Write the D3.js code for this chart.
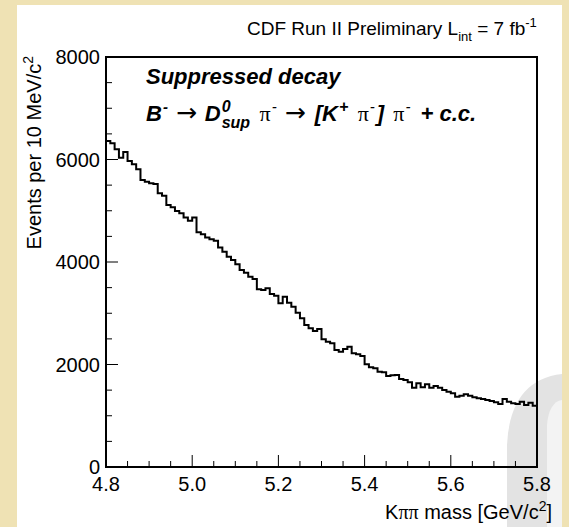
<!DOCTYPE html>
<html>
<head>
<meta charset="utf-8">
<script src="https://cdn.jsdelivr.net/npm/d3@7"></script>
<style>
  body { margin: 0; background: #efe2b4; }
  svg { display: block; }
  text { font-family: "Liberation Sans", Arial, Helvetica, sans-serif; fill: #000; }
  .sym { font-family: "Liberation Serif", "DejaVu Serif", serif; font-style: normal; font-weight: normal; }
  .arr { font-family: "DejaVu Sans", sans-serif; font-style: normal; font-weight: normal; }
</style>
</head>
<body>
<svg id="canvas" width="569" height="527"></svg>
<script>
// histogram: 100 bins of 10 MeV between 4.8 and 5.8 GeV/c^2
const binLow = 4.8;
const binWidth = 0.01;
const counts = [
  6360, 6315, 6200, 6035, 6145, 5970, 5905, 5808, 5600, 5566,
  5535, 5520, 5340, 5293, 5110, 5066, 4995, 4950, 4870, 4805,
  4870, 4580, 4540, 4480, 4442, 4415, 4285, 4200, 4103, 4040,
  3955, 3843, 3790, 3712, 3668, 3467, 3453, 3486, 3375, 3342,
  3193, 3322, 3205, 3127, 3010, 2901, 2770, 2706, 2653, 2692,
  2491, 2445, 2413, 2283, 2250, 2302, 2347, 2218, 2199, 2166,
  2004, 1945, 1926, 1860, 1848, 1776, 1790, 1795, 1717, 1697,
  1652, 1547, 1633, 1555, 1613, 1547, 1580, 1547, 1502, 1469,
  1438, 1372, 1391, 1418, 1391, 1360, 1340, 1327, 1307, 1288,
  1262, 1229, 1327, 1274, 1243, 1229, 1274, 1210, 1254, 1196
];
const xTicks = [4.8, 5.0, 5.2, 5.4, 5.6, 5.8];
const yTicks = [0, 2000, 4000, 6000, 8000];

const svg = d3.select("#canvas");
const padL = 106, padR = 537, padT = 57, padB = 467;

const x = d3.scaleLinear().domain([4.8, 5.8]).range([padL, padR]);
const y = d3.scaleLinear().domain([0, 8000]).range([padB, padT]);

// white canvas pad
svg.append("rect").attr("x", 17).attr("y", 5).attr("width", 545).attr("height", 522).attr("fill", "#fff");

// grey logo piece in the lower right corner
svg.append("path")
    .attr("d", "M507,527 L507,445 Q510,380 562,374 L562,527 Z")
    .attr("fill", "#e3e3e3");
svg.append("path")
    .attr("d", "M547,527 L547,425 Q549,402 562,400 L562,527 Z")
    .attr("fill", "#f3f3f3");

// minor ticks
const xMinor = d3.range(0, 21).map(i => 4.8 + i * 0.05);
const yMinor = d3.range(0, 17).map(i => i * 500);

const ticks = svg.append("g").attr("stroke", "#000").attr("stroke-width", 1);
xMinor.forEach(v => {
    const major = xTicks.some(t => Math.abs(t - v) < 1e-6);
    ticks.append("line").attr("x1", x(v)).attr("x2", x(v))
        .attr("y1", padB).attr("y2", padB - (major ? 12 : 6));
});
yMinor.forEach(v => {
    const major = yTicks.includes(v);
    ticks.append("line").attr("y1", y(v)).attr("y2", y(v))
        .attr("x1", padL).attr("x2", padL + (major ? 12 : 6));
});

// histogram
const edges = counts.map((c, i) => ({ m: binLow + i * binWidth, c }));
edges.push({ m: binLow + counts.length * binWidth, c: counts[counts.length - 1] });
svg.append("path")
    .datum(edges)
    .attr("fill", "none")
    .attr("stroke", "#000")
    .attr("stroke-width", 2)
    .attr("d", d3.line().curve(d3.curveStepAfter).x(d => x(d.m)).y(d => y(d.c)));

// frame
svg.append("rect")
    .attr("x", padL).attr("y", padT)
    .attr("width", padR - padL).attr("height", padB - padT)
    .attr("fill", "none").attr("stroke", "#000").attr("stroke-width", 2);

// tick labels
svg.selectAll(".xl").data(xTicks).enter().append("text")
    .attr("x", d => x(d)).attr("y", 491)
    .attr("text-anchor", "middle").attr("font-size", 20)
    .text(d => d.toFixed(1));
svg.selectAll(".yl").data(yTicks).enter().append("text")
    .attr("x", 100).attr("y", d => y(d) + 7)
    .attr("text-anchor", "end").attr("font-size", 20)
    .text(d => d);

// axis titles
const xt = svg.append("text").attr("x", 552).attr("y", 519)
    .attr("text-anchor", "end").attr("font-size", 20);
xt.append("tspan").text("K");
xt.append("tspan").attr("class", "sym").text("ππ");
xt.append("tspan").text(" mass [GeV/c");
xt.append("tspan").attr("dy", -8).attr("font-size", 14).text("2");
xt.append("tspan").attr("dy", 8).text("]");

const yt = svg.append("text")
    .attr("transform", "translate(41,56) rotate(-90)")
    .attr("text-anchor", "end").attr("font-size", 20);
yt.append("tspan").text("Events per 10 MeV/c");
yt.append("tspan").attr("dy", -8).attr("font-size", 14).text("2");

// header
const hd = svg.append("text").attr("x", 247).attr("y", 35).attr("font-size", 19);
hd.append("tspan").text("CDF Run II Preliminary L");
hd.append("tspan").attr("dy", 6).attr("font-size", 13).text("int");
hd.append("tspan").attr("dy", -6).text(" = 7 fb");
hd.append("tspan").attr("dy", -8).attr("font-size", 13).text("-1");

// decay labels
svg.append("text").attr("x", 146).attr("y", 84)
    .attr("font-size", 22).attr("font-weight", "bold").attr("font-style", "italic")
    .text("Suppressed decay");

const dc = svg.append("text").attr("x", 146).attr("y", 121)
    .attr("font-size", 22).attr("font-weight", "bold").attr("font-style", "italic");
dc.append("tspan").text("B");
dc.append("tspan").attr("dx", 1).attr("dy", -9).attr("font-size", 15).text("-");
dc.append("tspan").attr("dx", 8).attr("dy", 9).attr("class", "arr").attr("font-size", 25).text("\u2192");
dc.append("tspan").attr("dx", 8).text("D");
dc.append("tspan").attr("dx", 1).attr("dy", -9).attr("font-size", 16).text("0");
dc.append("tspan").attr("dx", -9).attr("dy", 16).attr("font-size", 16).text("sup");
dc.append("tspan").attr("dx", 4).attr("dy", -7).attr("class", "sym").text(" \u03c0");
dc.append("tspan").attr("dx", 1).attr("dy", -9).attr("font-size", 15).attr("font-weight", "normal").text("-");
dc.append("tspan").attr("dx", 8).attr("dy", 9).attr("class", "arr").attr("font-size", 25).text("\u2192");
dc.append("tspan").attr("dx", 9).text("[K");
dc.append("tspan").attr("dx", 1).attr("dy", -9).attr("font-size", 16).text("+");
dc.append("tspan").attr("dx", 4).attr("dy", 9).attr("class", "sym").text(" \u03c0");
dc.append("tspan").attr("dx", 1).attr("dy", -9).attr("font-size", 15).attr("font-weight", "normal").text("-");
dc.append("tspan").attr("dx", 2).attr("dy", 9).text("] ");
dc.append("tspan").attr("dx", 3).attr("class", "sym").text("\u03c0");
dc.append("tspan").attr("dx", 1).attr("dy", -9).attr("font-size", 15).attr("font-weight", "normal").text("-");
dc.append("tspan").attr("dx", 4).attr("dy", 9).text(" + c.c.");
</script>
</body>
</html>
